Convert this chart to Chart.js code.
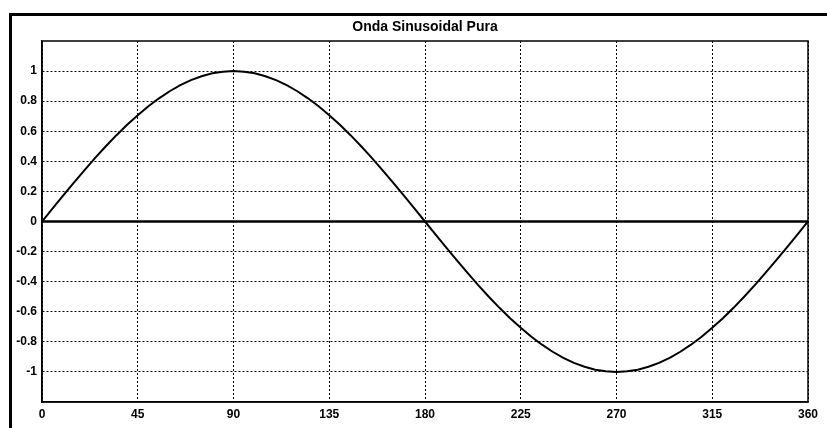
<!DOCTYPE html>
<html>
<head>
<meta charset="utf-8">
<script src="https://cdn.jsdelivr.net/npm/chart.js@4"></script>
<style>
  html, body { margin: 0; padding: 0; background: #fff; }
  #wrap { width: 827px; height: 428px; }
</style>
</head>
<body>
<div id="wrap"><canvas id="sineChart"></canvas></div>
<script>
// angles in degrees, every 5
const angles = [
  0, 5, 10, 15, 20, 25, 30, 35, 40, 45, 50, 55, 60, 65, 70, 75, 80, 85, 90,
  95, 100, 105, 110, 115, 120, 125, 130, 135, 140, 145, 150, 155, 160, 165, 170, 175, 180,
  185, 190, 195, 200, 205, 210, 215, 220, 225, 230, 235, 240, 245, 250, 255, 260, 265, 270,
  275, 280, 285, 290, 295, 300, 305, 310, 315, 320, 325, 330, 335, 340, 345, 350, 355, 360
];
const amplitude = [
  0, 0.087, 0.174, 0.259, 0.342, 0.423, 0.5, 0.574, 0.643, 0.707, 0.766, 0.819, 0.866, 0.906, 0.94, 0.966, 0.985, 0.996, 1,
  0.996, 0.985, 0.966, 0.94, 0.906, 0.866, 0.819, 0.766, 0.707, 0.643, 0.574, 0.5, 0.423, 0.342, 0.259, 0.174, 0.087, 0,
  -0.087, -0.174, -0.259, -0.342, -0.423, -0.5, -0.574, -0.643, -0.707, -0.766, -0.819, -0.866, -0.906, -0.94, -0.966, -0.985, -0.996, -1,
  -0.996, -0.985, -0.966, -0.94, -0.906, -0.866, -0.819, -0.766, -0.707, -0.643, -0.574, -0.5, -0.423, -0.342, -0.259, -0.174, -0.087, 0
];
const zeroLine = [0, 0];
const zeroLineX = [0, 360];
const xTicks = [0, 45, 90, 135, 180, 225, 270, 315, 360];
const yTicks = [-1, -0.8, -0.6, -0.4, -0.2, 0, 0.2, 0.4, 0.6, 0.8, 1];

const frame = {
  id: 'frame',
  beforeDraw(chart) {
    const c = chart.ctx;
    c.save();
    c.strokeStyle = '#000';
    c.lineWidth = 3;
    c.beginPath();
    c.moveTo(9, 14.5);
    c.lineTo(chart.width, 14.5);
    c.moveTo(10.5, 13);
    c.lineTo(10.5, chart.height);
    c.stroke();
    c.restore();
  },
  afterDatasetsDraw(chart) {
    const a = chart.chartArea;
    const c = chart.ctx;
    c.save();
    c.strokeStyle = '#000';
    c.lineWidth = 1.5;
    c.strokeRect(a.left, a.top, a.right - a.left, a.bottom - a.top);
    c.restore();
  }
};

const tickFont = { family: 'Liberation Sans, Arial, sans-serif', size: 12, weight: 'bold' };

const ctx = document.getElementById('sineChart').getContext('2d');
new Chart(ctx, {
  type: 'line',
  data: {
    datasets: [
      {
        data: angles.map((a, i) => ({ x: a, y: amplitude[i] })),
        borderColor: '#000',
        borderWidth: 2,
        pointRadius: 0,
        tension: 0
      },
      {
        data: zeroLineX.map((a, i) => ({ x: a, y: zeroLine[i] })),
        borderColor: '#000',
        borderWidth: 2.5,
        pointRadius: 0
      }
    ]
  },
  plugins: [frame],
  options: {
    responsive: true,
    maintainAspectRatio: false,
    animation: false,
    layout: { padding: { left: 0, right: 19, top: 0, bottom: 0 } },
    plugins: {
      legend: { display: false },
      tooltip: { enabled: false },
      title: {
        display: true,
        text: 'Onda Sinusoidal Pura',
        fullSize: false,
        color: '#000',
        font: { family: 'Liberation Sans, Arial, sans-serif', size: 14, weight: 'bold', lineHeight: 1.2 },
        padding: { top: 19, bottom: 5.2 }
      }
    },
    scales: {
      x: {
        type: 'linear',
        min: 0,
        max: 360,
        afterBuildTicks: axis => { axis.ticks = xTicks.map(v => ({ value: v })); },
        afterFit: scale => { scale.height = 26; },
        ticks: {
          color: '#000',
          padding: 5,
          maxRotation: 0,
          font: tickFont,
          callback: v => String(v)
        },
        grid: { color: '#000', lineWidth: 1, drawTicks: false },
        border: { color: '#000', width: 1.5, dash: [2, 2] }
      },
      y: {
        min: -1.2,
        max: 1.2,
        afterBuildTicks: axis => { axis.ticks = yTicks.map(v => ({ value: v })); },
        afterFit: scale => { scale.width = 42; },
        ticks: {
          color: '#000',
          padding: 5,
          font: tickFont,
          callback: v => String(Math.round(v * 10) / 10)
        },
        grid: { color: '#000', lineWidth: 1, drawTicks: false },
        border: { color: '#000', width: 1.5, dash: [2, 2] }
      }
    }
  }
});
</script>
</body>
</html>
